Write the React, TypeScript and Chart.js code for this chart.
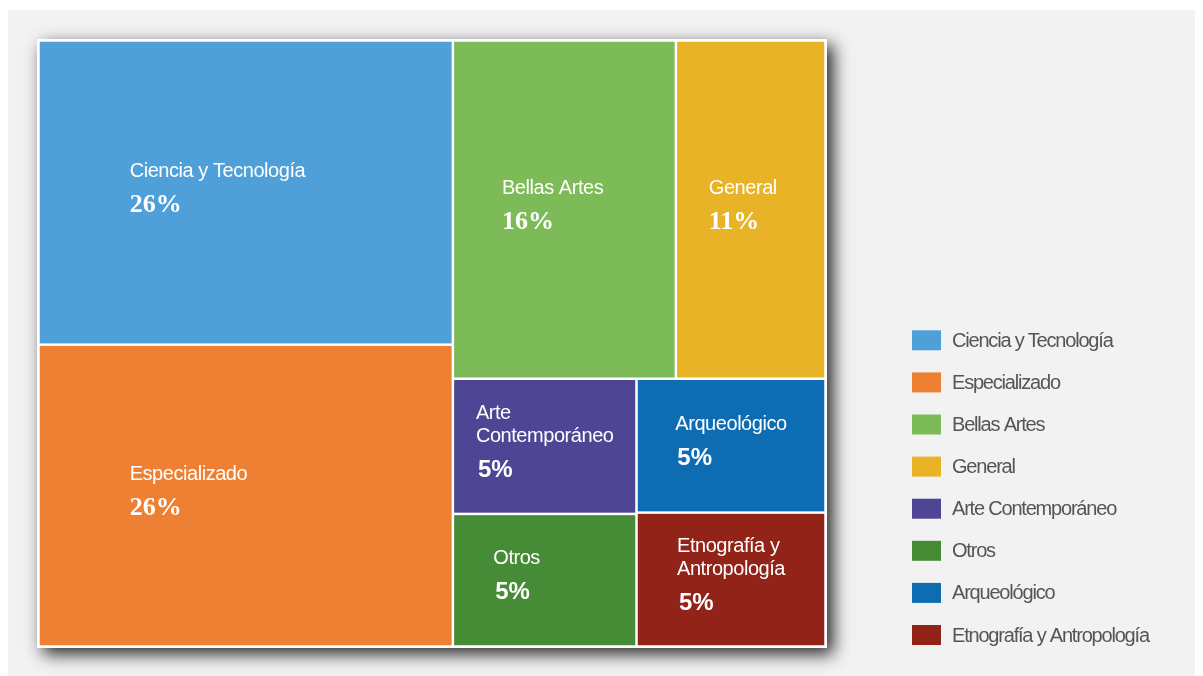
import React, { useEffect, useRef } from "react";
import { Chart, registerables } from "chart.js";

Chart.register(...registerables);

const categories = [
  "Ciencia y Tecnología",
  "Especializado",
  "Bellas Artes",
  "General",
  "Arte Contemporáneo",
  "Otros",
  "Arqueológico",
  "Etnografía y Antropología",
];
const shares = [26.4, 26.2, 15.8, 10.6, 5.2, 5.1, 5.3, 5.3];
const colors = [
  "#4f9fd8",
  "#ee8033",
  "#7cbb58",
  "#e9b328",
  "#4f4595",
  "#468b36",
  "#0e6cb3",
  "#922318",
];

type Rect = { x0: number; y0: number; x1: number; y1: number };

function layoutBinary(vals: number[], X0: number, Y0: number, X1: number, Y1: number): Rect[] {
  const n = vals.length;
  const sums: number[] = [0];
  for (let i = 0; i < n; i++) sums.push(sums[i] + vals[i]);
  const out: Rect[] = new Array(n);
  function part(i: number, j: number, value: number, x0: number, y0: number, x1: number, y1: number) {
    if (i >= j - 1) {
      out[i] = { x0, y0, x1, y1 };
      return;
    }
    const off = sums[i];
    const target = value / 2 + off;
    let k = i + 1;
    let hi = j - 1;
    while (k < hi) {
      const mid = (k + hi) >>> 1;
      if (sums[mid] < target) k = mid + 1;
      else hi = mid;
    }
    if (target - sums[k - 1] < sums[k] - target && i + 1 < k) --k;
    const vl = sums[k] - off;
    const vr = value - vl;
    if (x1 - x0 > y1 - y0) {
      const xk = (x0 * vr + x1 * vl) / value;
      part(i, k, vl, x0, y0, xk, y1);
      part(k, j, vr, xk, y0, x1, y1);
    } else {
      const yk = (y0 * vr + y1 * vl) / value;
      part(i, k, vl, x0, y0, x1, yk);
      part(k, j, vr, x0, yk, x1, y1);
    }
  }
  part(0, n, sums[n], X0, Y0, X1, Y1);
  return out;
}

function wrap(ctx: CanvasRenderingContext2D, text: string, maxW: number): string[] {
  const words = text.split(" ");
  const lines: string[] = [];
  let cur = "";
  for (const w of words) {
    const test = cur ? cur + " " + w : w;
    if (cur && ctx.measureText(test).width > maxW) {
      lines.push(cur);
      cur = w;
    } else cur = test;
  }
  if (cur) lines.push(cur);
  return lines;
}

const SANS = '"Liberation Sans", Arial, sans-serif';
const SERIF = '"Liberation Serif", "Times New Roman", serif';

const treemapPlugin = {
  id: "treemapCells",
  beforeDraw(chart: any) {
    const ctx = chart.ctx as CanvasRenderingContext2D;
    ctx.save();
    ctx.fillStyle = "#f2f2f2";
    ctx.fillRect(0, 2, chart.width, chart.height - 2);
    ctx.restore();
  },
  afterDatasetsDraw(chart: any) {
    const ctx = chart.ctx as CanvasRenderingContext2D;
    const xs = chart.scales.x;
    const ys = chart.scales.y;
    const left = xs.getPixelForValue(0);
    const right = xs.getPixelForValue(1);
    const top = ys.getPixelForValue(1);
    const bottom = ys.getPixelForValue(0);

    // frame with drop shadow
    ctx.save();
    ctx.shadowColor = "rgba(0,0,0,0.85)";
    ctx.shadowBlur = 16;
    ctx.shadowOffsetX = 6;
    ctx.shadowOffsetY = 6;
    ctx.fillStyle = "#ffffff";
    ctx.fillRect(left, top, right - left, bottom - top);
    ctx.restore();

    const total = shares.reduce((a, b) => a + b, 0);
    const rects = layoutBinary(shares, left + 1.5, top + 1.5, right - 1.5, bottom - 1.5);
    const LINE_H = 23.5;
    const PCT_GAP = 33;

    rects.forEach((r, i) => {
      const inset = 1.25;
      ctx.save();
      ctx.fillStyle = colors[i];
      ctx.fillRect(r.x0 + inset, r.y0 + inset, r.x1 - r.x0 - 2 * inset, r.y1 - r.y0 - 2 * inset);

      const w = r.x1 - r.x0;
      const cy = (r.y0 + r.y1) / 2;
      ctx.font = "20px " + SANS;
      (ctx as any).letterSpacing = "-0.45px";
      const lines = wrap(ctx, categories[i], w * 0.78);
      const maxLine = Math.max(...lines.map((l) => ctx.measureText(l).width));
      const padX = Math.min(0.22 * w, (w - maxLine) / 2);
      const tx = r.x0 + padX;
      const span = (lines.length - 1) * LINE_H + PCT_GAP;
      const y0 = cy - 5 - span / 2;
      ctx.fillStyle = "#ffffff";
      ctx.textAlign = "left";
      ctx.textBaseline = "middle";
      lines.forEach((l, li) => ctx.fillText(l, tx, y0 + li * LINE_H));

      const pct = Math.round((shares[i] / total) * 100);
      const pctY = y0 + (lines.length - 1) * LINE_H + PCT_GAP;
      (ctx as any).letterSpacing = "0px";
      if (pct >= 10) {
        ctx.font = "bold 26px " + SERIF;
        ctx.fillText(pct + "%", tx, pctY + 1);
      } else {
        ctx.font = "bold 24px " + SANS;
        ctx.fillText(pct + "%", tx + 2, pctY + 1);
      }
      ctx.restore();
    });

    // legend
    const n = categories.length;
    const ROW = 42.1;
    const bx = right + 85;
    ctx.save();
    ctx.font = "20px " + SANS;
    (ctx as any).letterSpacing = "-1.2px";
    ctx.textAlign = "left";
    ctx.textBaseline = "middle";
    for (let i = 0; i < n; i++) {
      const cyL = bottom - 13 - (n - 1 - i) * ROW;
      ctx.fillStyle = colors[i];
      ctx.fillRect(bx, cyL - 10, 29, 20);
      ctx.fillStyle = "#555555";
      ctx.fillText(categories[i], bx + 40, cyL + 1);
    }
    ctx.restore();
  },
};

export default function App() {
  const ref = useRef<HTMLCanvasElement | null>(null);
  useEffect(() => {
    if (!ref.current) return;
    const chart = new Chart(ref.current, {
      type: "scatter",
      data: { labels: categories, datasets: [{ label: "share", data: [] as any[] }] },
      options: {
        animation: false,
        responsive: false,
        devicePixelRatio: 1,
        layout: { padding: { left: 29, top: 31, right: 368, bottom: 28 } },
        scales: {
          x: { type: "linear", min: 0, max: 1, display: false },
          y: { type: "linear", min: 0, max: 1, display: false },
        },
        plugins: { legend: { display: false }, tooltip: { enabled: false } },
      },
      plugins: [treemapPlugin],
    });
    return () => chart.destroy();
  }, []);
  return (
    <div style={{ width: 1187, height: 668 }}>
      <canvas ref={ref} width={1187} height={668} style={{ display: "block" }} />
    </div>
  );
}
